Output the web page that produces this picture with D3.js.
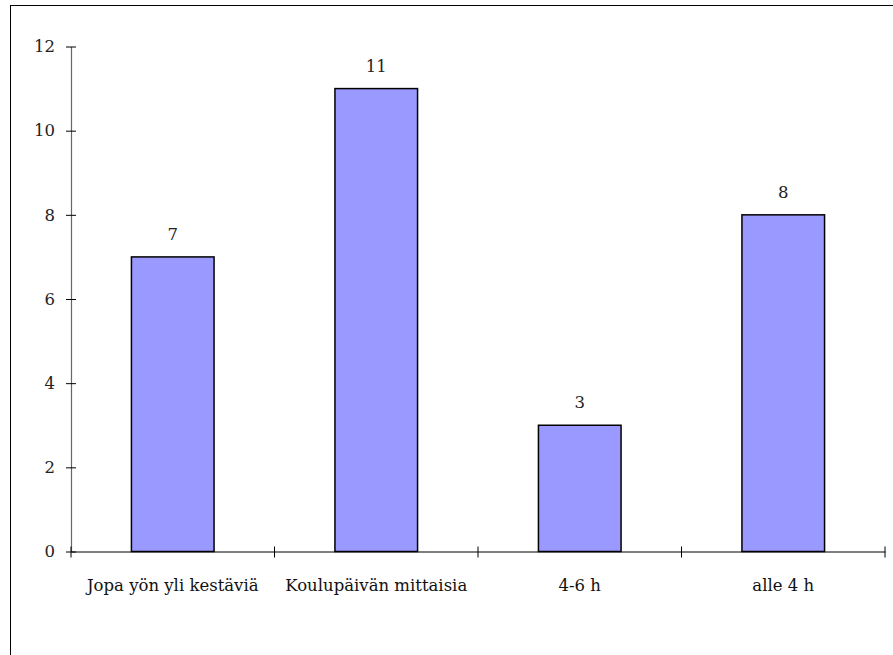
<!DOCTYPE html>
<html><head><meta charset="utf-8">
<script src="https://cdn.jsdelivr.net/npm/d3@7"></script>
<style>html,body{margin:0;padding:0;background:#fff}</style>
</head><body>
<svg id="c" width="893" height="655"></svg>
<script>
const categories = ["Jopa yön yli kestäviä", "Koulupäivän mittaisia", "4-6 h", "alle 4 h"];
const values = [7, 11, 3, 8];
const yTicks = [0, 2, 4, 6, 8, 10, 12];

(function () {
const FONT = "DejaVu Serif";
const FS = 16.5;
const svg = d3.select("#c");
svg.append("rect").attr("x", 10.5).attr("y", 5.5).attr("width", 900).attr("height", 700)
  .attr("fill", "none").attr("stroke", "#000").attr("stroke-width", 1);

const mL = 71, mR = 885, mT = 46.5, mB = 551.5;
const x = d3.scaleBand().domain(categories).range([mL, mR]).paddingInner(0.594).paddingOuter(0.297);
const y = d3.scaleLinear().domain([0, 12]).range([mB, mT]);

svg.selectAll("rect.bar").data(values).enter().append("rect").attr("class", "bar")
  .attr("x", (d, i) => x(categories[i]))
  .attr("y", d => y(d))
  .attr("width", x.bandwidth())
  .attr("height", d => y(0) - y(d))
  .attr("fill", "#9999FF").attr("stroke", "#000").attr("stroke-width", 1.5);

const ya = svg.append("g").attr("transform", `translate(${mL},0)`)
  .call(d3.axisLeft(y).tickValues(yTicks).tickSize(0).tickPadding(16).tickFormat(d3.format("d")));
ya.attr("font-family", FONT).attr("font-size", FS);
ya.select(".domain").attr("stroke", "#666").attr("stroke-width", 1.2);
ya.selectAll(".tick text").attr("fill", "#222");
ya.selectAll(".tick").append("line").attr("x1", -5).attr("x2", 5).attr("stroke", "#000");

const xa = svg.append("g").attr("transform", `translate(0,${mB})`)
  .call(d3.axisBottom(x).tickSize(0).tickPadding(28));
xa.attr("font-family", FONT).attr("font-size", FS);
xa.select(".domain").attr("stroke", "#000").attr("stroke-width", 1);
xa.selectAll(".tick text").attr("fill", "#111");
const edges = categories.map(c => x(c) - x.step() * x.paddingInner() / 2).concat([mR]);
edges[0] = mL;
xa.selectAll("line.edge").data(edges).enter().append("line").attr("class", "edge")
  .attr("x1", d => d).attr("x2", d => d).attr("y1", -5).attr("y2", 6).attr("stroke", "#000");

svg.append("g").attr("font-family", FONT).attr("font-size", FS)
  .selectAll("text.val").data(values).enter().append("text").attr("class", "val")
  .attr("x", (d, i) => x(categories[i]) + x.bandwidth() / 2)
  .attr("y", d => y(d) - 17)
  .attr("text-anchor", "middle").attr("fill", "#222")
  .text(d => d);
})();
</script>
</body></html>
